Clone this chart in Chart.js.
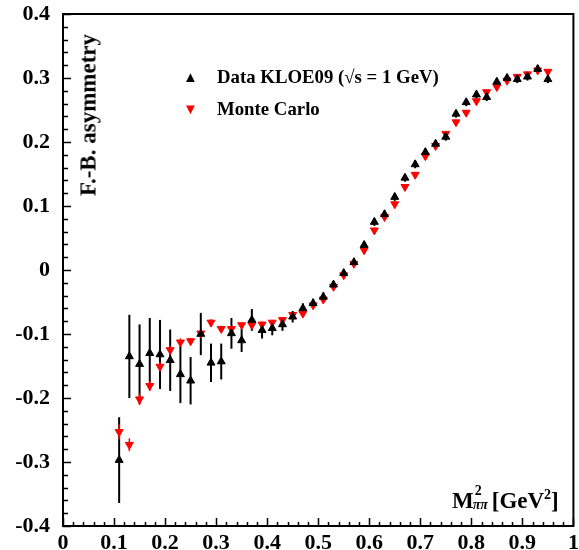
<!DOCTYPE html>
<html><head><meta charset="utf-8">
<script src="https://cdn.jsdelivr.net/npm/chart.js@4.4.0/dist/chart.umd.min.js"></script>
<style>
html,body{margin:0;padding:0;background:#fff;}
#wrap{position:relative;width:579px;height:550px;overflow:hidden;}
canvas{position:absolute;left:0;top:0;}
.t{position:absolute;font-family:"Liberation Serif","Times New Roman",serif;font-weight:bold;color:#000;white-space:nowrap;line-height:1;}
</style></head><body>
<div id="wrap">
<canvas id="c" width="579" height="550"></canvas>
<div class="t" id="ytitle" style="left:88px;top:115px;font-size:23px;transform:translate(-50%,-50%) rotate(-90deg);">F.-B. asymmetry</div>
<div class="t" style="left:183px;top:70px;font-size:15px;">&#9650;</div>
<div class="t" style="left:217px;top:68px;font-size:18.8px;">Data KLOE09 (&#8730;s = 1 GeV)</div>
<div class="t" style="left:183px;top:102px;font-size:15px;color:#ff0000;">&#9660;</div>
<div class="t" style="left:217px;top:100px;font-size:18.8px;">Monte Carlo</div>
<div class="t" style="left:452px;top:489px;font-size:23px;">M<span style="display:inline-block;position:relative;width:18px;height:10px;"><span style="position:absolute;left:1px;top:-14px;font-size:14px;">2</span><span style="position:absolute;left:-1px;top:0;font-size:14px;font-style:italic;">&#960;&#960;</span></span>[GeV<span style="position:relative;top:-9px;font-size:14px;">2</span>]</div>
</div>
<script>
const massSq = [0.11,0.13,0.15,0.17,0.19,0.21,0.23,0.25,0.27,0.29,0.31,0.33,0.35,0.37,0.39,0.41,0.43,0.45,0.47,0.49,0.51,0.53,0.55,0.57,0.59,0.61,0.63,0.65,0.67,0.69,0.71,0.73,0.75,0.77,0.79,0.81,0.83,0.85,0.87,0.89,0.91,0.93,0.95];
const dataAsym = [-0.297,-0.135,-0.147,-0.130,-0.132,-0.141,-0.163,-0.173,-0.100,-0.145,-0.143,-0.099,-0.110,-0.078,-0.094,-0.091,-0.085,-0.073,-0.060,-0.052,-0.042,-0.023,-0.005,0.012,0.039,0.075,0.087,0.114,0.144,0.165,0.184,0.197,0.208,0.244,0.262,0.274,0.270,0.294,0.300,0.298,0.302,0.314,0.298];
const dataErr = [0.067,0.065,0.062,0.055,0.054,0.048,0.045,0.037,0.033,0.030,0.028,0.024,0.018,0.017,0.013,0.011,0.010,0.009,0.008,0.007,0.007,0.006,0.006,0.006,0.006,0.006,0.006,0.006,0.006,0.006,0.006,0.006,0.006,0.006,0.006,0.006,0.006,0.006,0.006,0.006,0.006,0.006,0.006];
const mcAsym = [-0.253,-0.273,-0.202,-0.181,-0.151,-0.125,-0.113,-0.111,-0.099,-0.082,-0.092,-0.092,-0.086,-0.086,-0.085,-0.082,-0.078,-0.070,-0.068,-0.055,-0.046,-0.026,-0.008,0.010,0.031,0.062,0.083,0.103,0.130,0.149,0.178,0.194,0.213,0.231,0.246,0.264,0.278,0.286,0.296,0.302,0.306,0.312,0.310];
const mcErr = [0.012,0.010,0.009,0.008,0.007,0.006,0.006,0.005,0.005,0.005,0.005,0.005,0.004,0.004,0.004,0.004,0.004,0.004,0.004,0.004,0.004,0.004,0.004,0.004,0.004,0.004,0.004,0.004,0.004,0.004,0.004,0.004,0.004,0.004,0.004,0.004,0.004,0.004,0.004,0.004,0.004,0.004,0.004];
const xTicks = [0,0.1,0.2,0.3,0.4,0.5,0.6,0.7,0.8,0.9,1];
const yTicks = [-0.4,-0.3,-0.2,-0.1,0,0.1,0.2,0.3,0.4];

const tickFont = {family:'"Liberation Serif","Times New Roman",serif', size:22, weight:'bold', lineHeight:1};
function fmt(v){ const r = Math.round(v*10)/10; return r === 0 ? '0' : String(r); }
function noPad(s){ s.paddingTop = 0; s.paddingBottom = 0; s.paddingLeft = 0; s.paddingRight = 0; }

const errorBars = {
  id:'errorBars',
  beforeDatasetsDraw(chart){
    const ctx = chart.ctx, xs = chart.scales.x, ys = chart.scales.y;
    const sets = [[dataAsym,dataErr,'#000000',2],[mcAsym,mcErr,'#ff0000',1.5]];
    ctx.save();
    sets.forEach(([vals,errs,col,w])=>{
      ctx.strokeStyle = col; ctx.lineWidth = w;
      vals.forEach((v,i)=>{
        const px = xs.getPixelForValue(massSq[i]);
        ctx.beginPath();
        ctx.moveTo(px, ys.getPixelForValue(v-errs[i]));
        ctx.lineTo(px, ys.getPixelForValue(v+errs[i]));
        ctx.stroke();
      });
    });
    ctx.restore();
  }
};
const frame = {
  id:'frame',
  afterDraw(chart){
    const ctx = chart.ctx, a = chart.chartArea, xs = chart.scales.x, ys = chart.scales.y;
    ctx.save();
    ctx.strokeStyle = '#000'; ctx.lineWidth = 1.5;
    ctx.beginPath();
    for (let k=0;k<=40;k++){
      const v = -0.4 + k*0.02;
      const py = Math.round(ys.getPixelForValue(v))+0.5;
      const len = (k%5===0) ? 8 : 5;
      ctx.moveTo(a.left, py); ctx.lineTo(a.left+len, py);
    }
    for (let k=0;k<=50;k++){
      const v = k*0.02;
      const px = Math.round(xs.getPixelForValue(v))+0.5;
      const len = (k%5===0) ? 8 : 4;
      ctx.moveTo(px, a.bottom); ctx.lineTo(px, a.bottom-len);
    }
    ctx.stroke();
    ctx.lineWidth = 2;
    ctx.strokeRect(a.left, a.top, a.right-a.left, a.bottom-a.top);
    ctx.restore();
  }
};

new Chart(document.getElementById('c'), {
  type:'scatter',
  data:{
    datasets:[
      {label:'Data KLOE09 (√s = 1 GeV)', data:massSq.map((x,i)=>({x, y:dataAsym[i]})), pointStyle:'triangle', radius:4.6, backgroundColor:'#000', borderColor:'#000', borderWidth:1, order:1},
      {label:'Monte Carlo', data:massSq.map((x,i)=>({x, y:mcAsym[i]})), pointStyle:'triangle', rotation:180, radius:4.6, backgroundColor:'#ff0000', borderColor:'#ff0000', borderWidth:1, order:2}
    ]
  },
  options:{
    responsive:false, animation:false, devicePixelRatio:1,
    layout:{padding:{top:14,right:3,left:0,bottom:0}},
    plugins:{legend:{display:false}, tooltip:{enabled:false}},
    scales:{
      x:{type:'linear', min:0, max:1,
        afterBuildTicks(s){ s.ticks = xTicks.map(v=>({value:v})); },
        afterFit(s){ s.height = 24; noPad(s); },
        ticks:{font:tickFont, color:'#000', padding:6, maxRotation:0, autoSkip:false, callback:(v)=>fmt(v)},
        grid:{display:false, drawTicks:false}, border:{display:false}},
      y:{type:'linear', min:-0.4, max:0.4,
        afterBuildTicks(s){ s.ticks = yTicks.map(v=>({value:v})); },
        afterFit(s){ s.width = 63; noPad(s); },
        ticks:{font:tickFont, color:'#000', padding:13, autoSkip:false, callback:(v)=>fmt(v)},
        grid:{display:false, drawTicks:false}, border:{display:false}}
    }
  },
  plugins:[errorBars, frame]
});
</script>
</body></html>
